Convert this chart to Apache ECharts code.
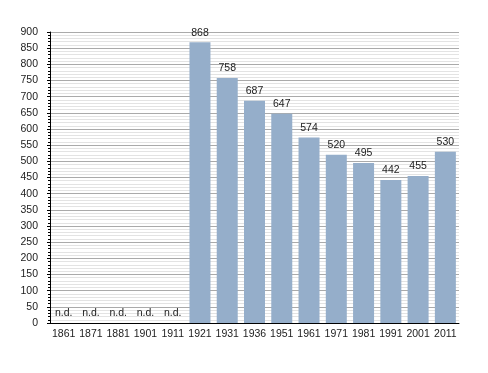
<!DOCTYPE html>
<html><head><meta charset="utf-8">
<script src="https://cdn.jsdelivr.net/npm/echarts@6/dist/echarts.min.js"></script>
<style>html,body{margin:0;padding:0;background:#fff}#c{width:488px;height:373px}</style>
</head><body><div id="c"></div>
<script>
const years = ['1861','1871','1881','1901','1911','1921','1931','1936','1951','1961','1971','1981','1991','2001','2011'];
const population = [null,null,null,null,null,868,758,687,647,574,520,495,442,455,530];
const yTicks = {min:0, max:900, interval:50};

const chart = echarts.init(document.getElementById('c'), null, {renderer:'canvas'});
const font = 'Liberation Sans, Arial, sans-serif';
chart.setOption({
  animation:false,
  grid:{left:50, right:29, top:32, bottom:50, containLabel:false},
  xAxis:{type:'category', data:years,
    axisLine:{lineStyle:{color:'#000', width:1}},
    axisTick:{show:false},
    axisLabel:{color:'#222', fontSize:10.5, fontFamily:font, margin:6, interval:0}},
  yAxis:{type:'value', min:yTicks.min, max:yTicks.max, interval:yTicks.interval,
    axisLine:{show:true, lineStyle:{color:'#000'}},
    axisTick:{show:true, length:3, inside:false, lineStyle:{color:'#000'}},
    minorTick:{show:true, splitNumber:5, length:2, lineStyle:{color:'#000'}},
    splitLine:{show:true, lineStyle:{color:'#aaaaaa', width:1}},
    minorSplitLine:{show:true, lineStyle:{color:'#e3e3e3', width:1}},
    axisLabel:{color:'#222', fontSize:10.5, fontFamily:font, margin:12}},
  series:[{type:'bar', barWidth:'77%',
    data: population.map(v => v === null ? {value:0, isNd:true} : v),
    itemStyle:{color:'#95aeca'},
    label:{show:true, position:'top', distance:4, color:'#222', fontSize:10.5, fontFamily:font,
      formatter: p => p.data && p.data.isNd ? 'n.d.' : String(p.value)}}]
});
</script></body></html>
